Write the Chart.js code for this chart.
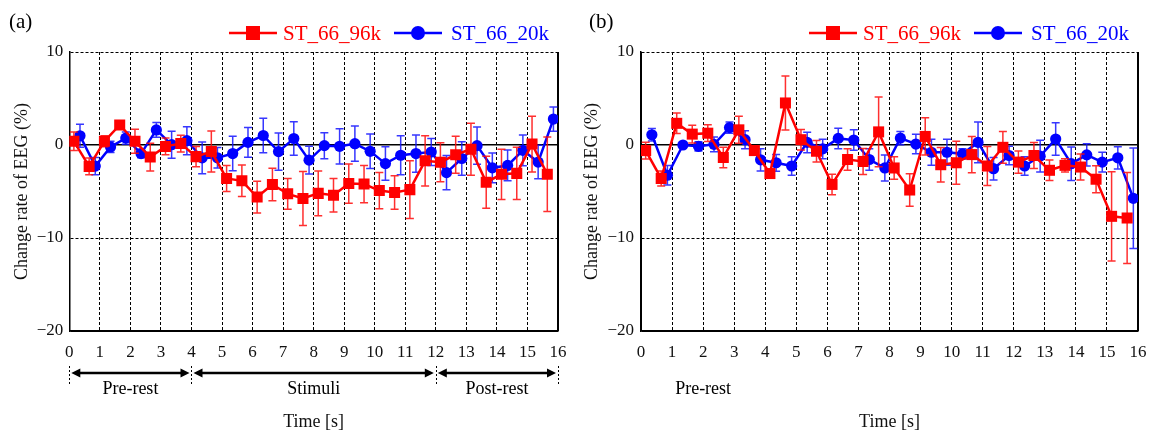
<!DOCTYPE html>
<html>
<head>
<meta charset="utf-8">
<script src="https://cdn.jsdelivr.net/npm/chart.js@4.4.1/dist/chart.umd.min.js"></script>
<style>
  html, body { margin: 0; padding: 0; background: #fff; }
  #wrap { position: relative; width: 1160px; height: 433px; }
  canvas { position: absolute; top: 0; }
  #panel-a { left: 0; }
  #panel-b { left: 580px; }
</style>
</head>
<body>
<div id="wrap">
  <canvas id="panel-a" width="580" height="433" style="width:580px;height:433px"></canvas>
  <canvas id="panel-b" width="580" height="433" style="width:580px;height:433px"></canvas>
</div>
<script>
const FONT = '"Liberation Serif", "Times New Roman", serif';

const SERIES_NAMES = ["ST_66_96k", "ST_66_20k"];

// sample times (s); the two series are drawn slightly offset
const RED_TIMES = [0.15, 0.65, 1.15, 1.65, 2.15, 2.65, 3.15, 3.65, 4.15, 4.65, 5.15, 5.65, 6.15, 6.65, 7.15, 7.65,
  8.15, 8.65, 9.15, 9.65, 10.15, 10.65, 11.15, 11.65, 12.15, 12.65, 13.15, 13.65, 14.15, 14.65, 15.15, 15.65];
const BLUE_TIMES = [0.35, 0.85, 1.35, 1.85, 2.35, 2.85, 3.35, 3.85, 4.35, 4.85, 5.35, 5.85, 6.35, 6.85, 7.35, 7.85,
  8.35, 8.85, 9.35, 9.85, 10.35, 10.85, 11.35, 11.85, 12.35, 12.85, 13.35, 13.85, 14.35, 14.85, 15.35, 15.85];

const X_TICKS = [0, 1, 2, 3, 4, 5, 6, 7, 8, 9, 10, 11, 12, 13, 14, 15, 16];
const Y_TICKS = [10, 0, -10, -20];

// panel (a)
const A_RED = [0.4, -2.3, 0.4, 2.15, 0.4, -1.3, -0.15, 0.15, -1.25, -0.7, -3.6, -3.85, -5.6, -4.25, -5.25, -5.75,
  -5.2, -5.4, -4.15, -4.2, -4.9, -5.1, -4.8, -1.7, -1.85, -1.05, -0.45, -4.0, -3.15, -3.05, 0.1, -3.15];
const A_RED_ERR = [1.0, 0.9, 0.6, 0.3, 1.3, 1.5, 0.9, 0.9, 1.1, 2.2, 1.4, 1.7, 1.7, 1.75, 1.65, 2.9,
  2.4, 1.8, 2.1, 2.0, 1.95, 1.8, 3.1, 2.7, 2.1, 2.0, 2.8, 2.8, 2.7, 2.8, 3.0, 4.0];
const A_BLUE = [0.99, -2.27, -0.21, 0.74, -0.92, 1.62, 0.03, 0.46, -1.38, -1.38, -0.92, 0.28, 1.02, -0.71, 0.7, -1.63,
  -0.07, -0.14, 0.14, -0.68, -2.0, -1.1, -0.92, -0.75, -2.97, -1.45, -0.07, -2.45, -2.2, -0.57, -1.84, 2.79];
const A_BLUE_ERR = [1.24, 0.93, 0.6, 0.67, 0.45, 0.8, 1.45, 1.5, 1.7, 1.1, 1.85, 1.6, 1.85, 2.0, 1.8, 1.5,
  1.4, 1.9, 1.9, 1.85, 1.8, 2.1, 2.0, 1.45, 1.85, 1.8, 2.0, 1.6, 1.65, 1.65, 1.8, 1.3];

// panel (b)
const B_RED = [-0.6, -3.6, 2.33, 1.17, 1.27, -1.34, 1.63, -0.6, -3.07, 4.52, 0.57, -0.67, -4.24, -1.56, -1.77, 1.41,
  -2.47, -4.84, 0.92, -2.12, -1.91, -1.03, -2.26, -0.25, -1.84, -1.13, -2.72, -2.19, -2.37, -3.68, -7.67, -7.85];
const B_RED_ERR = [0.9, 0.8, 1.1, 0.95, 0.9, 1.1, 1.45, 0.5, 0.35, 2.9, 1.1, 1.15, 1.1, 1.15, 1.4, 3.75,
  1.2, 1.75, 2.0, 1.85, 2.3, 1.95, 2.1, 1.7, 1.2, 1.4, 1.1, 0.7, 1.4, 1.45, 4.8, 4.9];
const B_BLUE = [1.1, -3.25, 0, -0.14, 0.07, 1.87, 0.57, -1.59, -1.91, -2.26, 0.28, -0.42, 0.71, 0.53, -1.56, -2.47,
  0.74, 0.1, -0.78, -0.78, -0.95, 0.28, -2.55, -1.13, -2.26, -1.2, 0.64, -2.01, -1.06, -1.84, -1.38, -5.73];
const B_BLUE_ERR = [0.67, 1.05, 0.2, 0.5, 0.8, 0.6, 0.97, 1.2, 0.9, 1.0, 1.1, 1.05, 1.1, 1.1, 1.15, 1.4,
  0.7, 1.05, 1.4, 1.4, 0.55, 2.2, 1.2, 1.0, 1.0, 1.7, 1.75, 1.8, 1.2, 1.05, 1.2, 5.4];

const PHASES = [
  { label: "Pre-rest", from: 0, to: 4 },
  { label: "Stimuli", from: 4, to: 12 },
  { label: "Post-rest", from: 12, to: 16 },
];

const RED = "#ff0000";
const BLUE = "#0000ff";

function toPoints(times, values) {
  return values.map((v, i) => ({ x: times[i], y: v }));
}

function fmtTick(v) {
  return v < 0 ? "\u2212" + Math.abs(v) : String(v);
}

const errorBars = {
  id: "errorBars",
  beforeDatasetDraw(chart, args) {
    const ds = chart.data.datasets[args.index];
    if (!ds.errors) return;
    const y = chart.scales.y;
    const ctx = chart.ctx;
    ctx.save();
    ctx.strokeStyle = ds.errorColor;
    ctx.lineWidth = 1.5;
    args.meta.data.forEach((pt, i) => {
      const v = ds.data[i].y;
      const e = ds.errors[i];
      const top = y.getPixelForValue(v + e);
      const bot = y.getPixelForValue(v - e);
      ctx.beginPath();
      ctx.moveTo(pt.x, top);
      ctx.lineTo(pt.x, bot);
      ctx.moveTo(pt.x - 4, top);
      ctx.lineTo(pt.x + 4, top);
      ctx.moveTo(pt.x - 4, bot);
      ctx.lineTo(pt.x + 4, bot);
      ctx.stroke();
    });
    ctx.restore();
  },
};

function drawArrowHead(ctx, x, y, dir) {
  ctx.beginPath();
  ctx.moveTo(x, y);
  ctx.lineTo(x - dir * 9, y - 4.5);
  ctx.lineTo(x - dir * 9, y + 4.5);
  ctx.closePath();
  ctx.fill();
}

const decor = {
  id: "decor",
  afterDraw(chart, args, opts) {
    const ctx = chart.ctx;
    const xs = chart.scales.x;
    const area = chart.chartArea;
    ctx.save();

    // panel letter
    ctx.fillStyle = "#000";
    ctx.font = "21px " + FONT;
    ctx.textAlign = "left";
    ctx.textBaseline = "middle";
    ctx.fillText(opts.letter, 9, 22);

    // legend, right aligned to the plot
    ctx.font = "21px " + FONT;
    const ly = 33;
    const items = chart.data.datasets.map((ds) => ({
      ds,
      w: ctx.measureText(ds.label).width,
    }));
    const red = items[0];
    const blue = items[1];
    const blueText = area.right - 9 - blue.w;
    const blueLine = blueText - 9 - 48;
    const redText = blueLine - 13 - red.w;
    const redLine = redText - 6 - 48;
    [[red, redLine, redText], [blue, blueLine, blueText]].forEach(([it, lx, tx]) => {
      ctx.strokeStyle = it.ds.borderColor;
      ctx.fillStyle = it.ds.borderColor;
      ctx.lineWidth = 2.5;
      ctx.beginPath();
      ctx.moveTo(lx, ly);
      ctx.lineTo(lx + 48, ly);
      ctx.stroke();
      if (it.ds.pointStyle === "rect") {
        ctx.fillRect(lx + 24 - 7, ly - 7, 14, 14);
      } else {
        ctx.beginPath();
        ctx.arc(lx + 24, ly, 7, 0, Math.PI * 2);
        ctx.fill();
      }
      ctx.textAlign = "left";
      ctx.fillText(it.ds.label, tx, ly + 1);
    });

    // phase annotations under the time axis
    ctx.fillStyle = "#000";
    ctx.strokeStyle = "#000";
    if (opts.arrows) {
      ctx.lineWidth = 1;
      ctx.setLineDash([2, 2]);
      [0, 4, 12, 16].forEach((t) => {
        const px = Math.round(xs.getPixelForValue(t)) + 0.5;
        ctx.beginPath();
        ctx.moveTo(px, 366);
        ctx.lineTo(px, 384);
        ctx.stroke();
      });
      ctx.setLineDash([]);
      ctx.lineWidth = 2.5;
      PHASES.forEach((p) => {
        const x0 = xs.getPixelForValue(p.from) + 2;
        const x1 = xs.getPixelForValue(p.to) - 2;
        ctx.beginPath();
        ctx.moveTo(x0 + 6, 373);
        ctx.lineTo(x1 - 6, 373);
        ctx.stroke();
        drawArrowHead(ctx, x0, 373, -1);
        drawArrowHead(ctx, x1, 373, 1);
      });
    }
    ctx.font = "18px " + FONT;
    ctx.textAlign = "center";
    ctx.textBaseline = "middle";
    PHASES.slice(0, opts.phaseCount).forEach((p) => {
      ctx.fillText(p.label, xs.getPixelForValue((p.from + p.to) / 2), 389);
    });
    ctx.restore();
  },
};

function makePanel(id, cfg) {
  const datasets = [
    {
      label: SERIES_NAMES[0],
      data: toPoints(RED_TIMES, cfg.red),
      errors: cfg.redErr,
      errorColor: "rgba(255, 10, 10, 0.85)",
      borderColor: RED,
      backgroundColor: RED,
      borderWidth: 2.5,
      pointStyle: "rect",
      pointRadius: 7.8,
      pointBorderWidth: 0,
    },
    {
      label: SERIES_NAMES[1],
      data: toPoints(BLUE_TIMES, cfg.blue),
      errors: cfg.blueErr,
      errorColor: "rgba(20, 20, 255, 0.85)",
      borderColor: BLUE,
      backgroundColor: BLUE,
      borderWidth: 2.5,
      pointStyle: "circle",
      pointRadius: 5.6,
      pointBorderWidth: 0,
    },
  ];

  return new Chart(document.getElementById(id), {
    type: "line",
    data: { datasets },
    plugins: [errorBars, decor],
    options: {
      responsive: false,
      animation: false,
      layout: { padding: { top: 52, right: 22, left: 0, bottom: 0 } },
      plugins: {
        legend: { display: false },
        tooltip: { enabled: false },
        decor: { letter: cfg.letter, arrows: cfg.arrows, phaseCount: cfg.phaseCount },
      },
      scales: {
        x: {
          type: "linear",
          min: 0,
          max: 16,
          afterBuildTicks: (s) => { s.ticks = X_TICKS.map((v) => ({ value: v })); },
          afterFit: (s) => { s.height = 102; },
          ticks: {
            autoSkip: false,
            maxRotation: 0,
            padding: 11,
            color: "#111",
            font: { family: FONT, size: 17 },
          },
          grid: {
            drawTicks: false,
            color: "#000",
            lineWidth: (c) => (c.tick && c.tick.value === 16 ? 2 : 1),
          },
          border: {
            color: "#000",
            width: 1.5,
            dash: (c) => (c.tick && (c.tick.value === 0 || c.tick.value === 16) ? [] : [3, 2]),
          },
          title: {
            display: true,
            text: "Time [s]",
            color: "#111",
            font: { family: FONT, size: 18 },
            padding: { top: 0, bottom: 0 },
          },
        },
        y: {
          min: -20,
          max: 10,
          afterBuildTicks: (s) => { s.ticks = Y_TICKS.map((v) => ({ value: v })); },
          afterFit: (s) => { s.width = cfg.yWidth; },
          ticks: {
            padding: cfg.tickPad,
            color: "#111",
            font: { family: FONT, size: 17 },
            callback: (v) => fmtTick(v),
          },
          grid: {
            drawTicks: false,
            color: "#000",
            lineWidth: (c) => (c.tick && c.tick.value === 0 ? 1.6 : 1),
          },
          border: {
            color: "#000",
            width: 1.5,
            dash: (c) => (c.tick && (c.tick.value === 0 || c.tick.value === -20) ? [] : [3, 2]),
          },
          title: {
            display: true,
            text: "Change rate of EEG (%)",
            color: "#111",
            font: { family: FONT, size: 18 },
            padding: { top: cfg.titlePad, bottom: 0 },
          },
        },
      },
    },
  });
}

makePanel("panel-a", {
  letter: "(a)", red: A_RED, redErr: A_RED_ERR, blue: A_BLUE, blueErr: A_BLUE_ERR,
  arrows: true, phaseCount: 3, yWidth: 69.3, tickPad: 6, titlePad: 11,
});
makePanel("panel-b", {
  letter: "(b)", red: B_RED, redErr: B_RED_ERR, blue: B_BLUE, blueErr: B_BLUE_ERR,
  arrows: false, phaseCount: 1, yWidth: 61, tickPad: 7, titlePad: 1.5,
});
</script>
</body>
</html>
